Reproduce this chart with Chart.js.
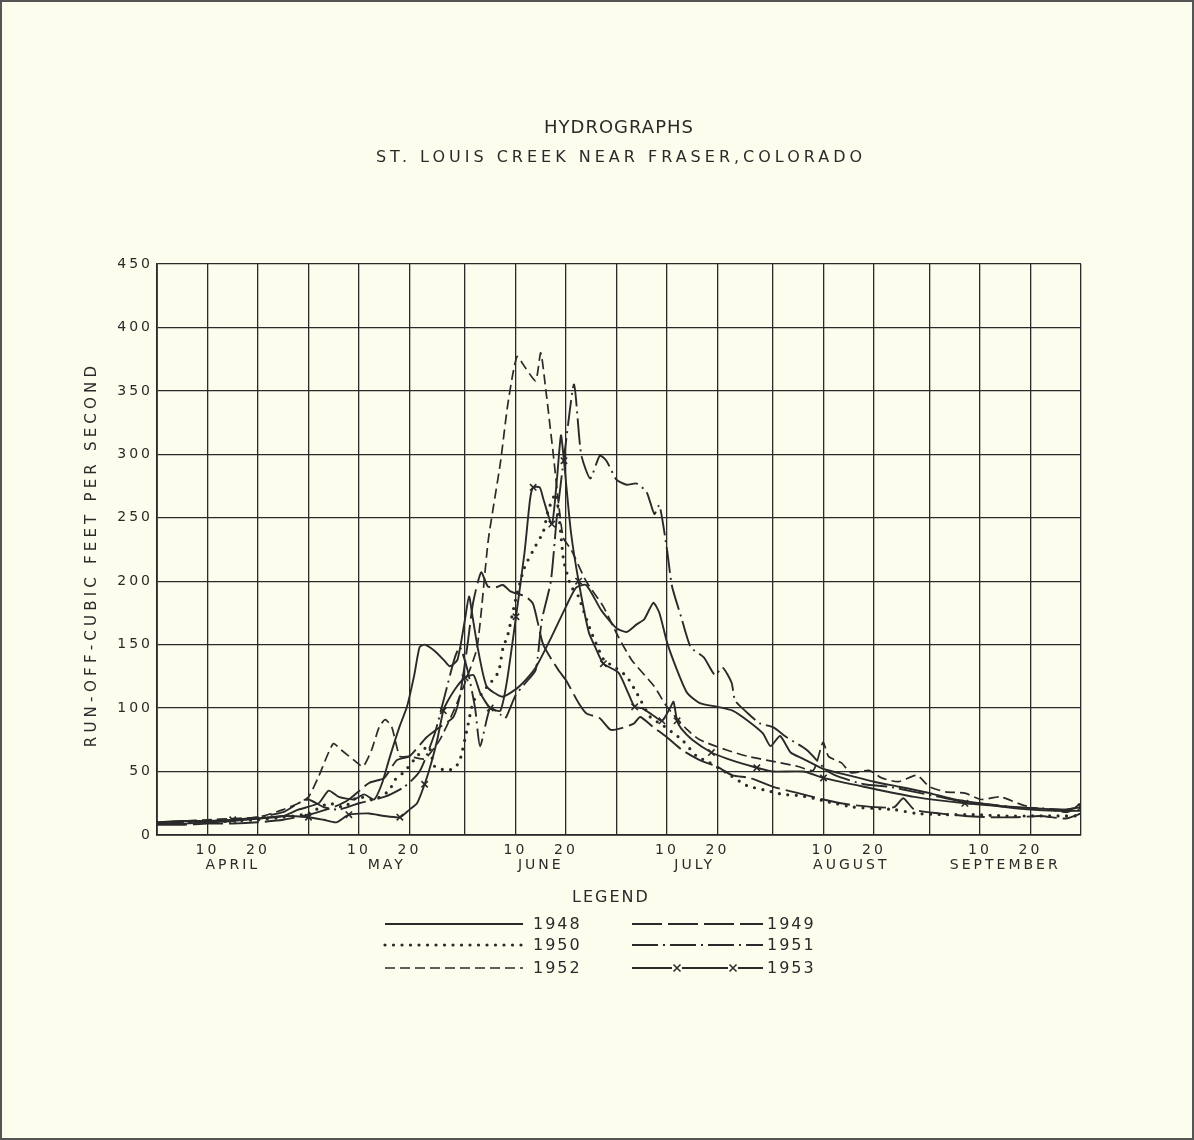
<!DOCTYPE html>
<html>
<head>
<meta charset="utf-8">
<title>Hydrographs - St. Louis Creek near Fraser, Colorado</title>
<script src="https://cdn.jsdelivr.net/npm/chart.js@4.4.1/dist/chart.umd.min.js"></script>
<style>
  html, body { margin: 0; padding: 0; background: #fdfdee; overflow: hidden; }
  #wrap { width: 1194px; height: 1140px; }
</style>
</head>
<body>
<div id="wrap"><canvas id="hydro" width="1194" height="1140"></canvas></div>
<script>
// x = days counted from March 31 (April 10 = 10, May 1 boundary = 30 ...)
const monthNames = ['APRIL', 'MAY', 'JUNE', 'JULY', 'AUGUST', 'SEPTEMBER'];
const monthStarts = [0, 30, 61, 91, 122, 153, 183];
const yTicks = [0, 50, 100, 150, 200, 250, 300, 350, 400, 450];
const years = ['1948', '1949', '1950', '1951', '1952', '1953'];

// [day, cubic feet per second]
const flow1948 = [[0,9],[5,9],[10,10],[15,11],[20,13],[25,15],[28,20],[32,25],[34,35],[36,30],[39,28],[41,32],[43,28],[44.5,40],[46,60],[48,85],[49.5,101],[51,127],[52,148],[53,150],[55,145],[57,137],[58,133],[59.5,138],[61,170],[61.8,188],[62.5,172],[63.5,148],[65.3,117],[68.3,109],[70,112],[72,118],[75,132],[78,155],[81,180],[83,195],[85,197],[88,177],[91,163],[93,160],[95,166],[96.5,170],[98.3,183],[99.5,175],[101,152],[103,130],[105,112],[107.5,104],[111,101],[114,98],[117,90],[120,80],[121.5,70],[123.4,78],[125.5,65],[128,60],[132,52],[137,47],[142,42],[147,38],[153,33],[158,28],[163,25],[168,22],[173,20],[178,19],[183,19]];
const flow1949 = [[0,8],[5,8],[10,9],[15,9],[20,10],[25,12],[30,16],[35,22],[38,28],[42,41],[45,45],[47.5,59],[50,62],[53.4,77],[56,85],[58.7,93],[60,110],[61.5,150],[62.6,183],[64.2,207],[65.5,196],[67,195],[68.5,197],[70,192],[71.5,190],[73,188],[74.5,182],[76.5,150],[79.5,130],[81,122],[83.5,104],[85,96],[87.7,92],[89.8,83],[91.8,84],[94.5,88],[95.7,93],[98.3,85],[101,77],[104,67],[107.5,59],[110.8,54],[114,47],[117.4,45],[122,38],[127,33],[132,28],[137,24],[142,22],[146,22],[147.8,29],[150,20],[155,17],[160,15],[165,14],[170,14],[175,15],[180,13],[183,17]];
const flow1950 = [[0,9],[5,10],[10,10],[15,11],[20,12],[25,14],[30,17],[34,25],[37,22],[39.8,30],[43,28],[46,35],[47,43],[49,50],[51.5,62],[53.8,70],[55,54],[57.5,51],[59,53],[60,59],[61.5,85],[62.7,106],[64,110],[66,120],[67,124],[67.8,131],[68.5,147],[69.5,158],[71,185],[72.8,211],[75,228],[76.5,239],[77.5,256],[79,269],[80.5,217],[81,209],[82,196],[83.5,188],[84.1,181],[86,160],[88.5,138],[90.4,133],[93,125],[95,112],[97.7,93],[100,87],[102,81],[104,75],[106.9,62],[109,58],[112.8,49],[116.8,39],[120.8,35],[124,32],[127.4,31],[130,29],[133,26],[137.9,22],[142,21],[146,20],[150.5,17],[156.4,16],[162,16],[168,15],[173,15],[178,15],[183,15]];
const flow1951 = [[0,9],[5,10],[10,11],[15,12],[20,14],[25,18],[28,25],[30,28],[33,22],[36,20],[40,25],[45,30],[49,38],[52,50],[55,80],[57,110],[59,140],[60,148],[61.5,130],[63,100],[64,70],[66,100],[68,95],[69,92],[71,110],[73,120],[75,130],[76.2,169],[78,200],[79.2,251],[81,310],[82.6,355],[84,300],[85.8,281],[87.7,299],[89,295],[91,280],[93,276],[95,277],[97,270],[98.5,253],[99.5,260],[101,225],[102,196],[103.8,172],[105.7,148],[108.3,140],[110.5,126],[112,132],[113.8,120],[114.5,106],[117,96],[119.4,88],[122,85],[124.7,77],[128.7,67],[132.6,51],[135,46],[140,40],[145,38],[150,34],[155,30],[160,26],[165,24],[170,22],[175,21],[180,20],[183,22]];
const flow1952 = [[0,10],[5,11],[10,12],[15,13],[20,14],[25,20],[28,25],[30,30],[32,46],[34.9,72],[36.5,67],[39,59],[40.8,54],[42.5,67],[44,85],[45.2,91],[46.5,85],[48.1,62],[50,62],[53,60],[56,75],[59,100],[61,120],[63.4,148],[65.6,232],[68,293],[69.5,340],[71.3,377],[73,368],[75,358],[76,380],[77,351],[78.4,303],[80.4,235],[82,225],[85,200],[88.4,180],[91,159],[94,138],[98.5,117],[101,101],[105,83],[107.5,75],[112.8,67],[117,62],[122,58],[127,54],[130,51],[131.9,73],[133,62],[135.5,57],[137.5,49],[141,51],[143.5,45],[146.8,42],[150.5,47],[153,38],[156.2,34],[160,33],[163.2,28],[167,30],[170.5,25],[173.8,21],[177,20],[180.3,18],[183,25]];
const flow1953 = [[0,10],[5,11],[10,11],[15,12],[20,13],[25,15],[30,14],[33,12],[35.5,10],[38,16],[42,17],[45,15],[48.1,14],[50,20],[51.5,25],[53,40],[54.4,58],[55.5,75],[56.7,98],[57.5,105],[59.4,117],[61,124],[62.7,126],[64,112],[66,100],[68,98],[69.3,121],[71.1,172],[72.8,223],[73.9,265],[74.5,274],[75.8,274],[76.5,265],[78.2,245],[79.2,280],[80,315],[80.6,295],[81,278],[82,238],[83.5,200],[85.5,160],[86.8,148],[88.4,135],[91.4,128],[93.3,112],[94.6,101],[96,100],[98,95],[100,90],[101.6,100],[102.3,105],[103,90],[103.8,84],[106,75],[109.8,65],[113,60],[117,55],[118.8,53],[122,50],[128,50],[132,45],[140,38],[150,30],[160,25],[170,22],[180,20],[183,22]];

const ink = '#2a2a2a';
const paper = '#fdfdee';
const font = '"DejaVu Sans", "Open Sans", sans-serif';

// grid every ten days, restarting at each month boundary
const gridDays = [];
for (let m = 0; m < 6; m++) {
    gridDays.push(monthStarts[m], monthStarts[m] + 10, monthStarts[m] + 20);
}
gridDays.push(183);
const monthMids = monthNames.map((n, i) => (monthStarts[i] + monthStarts[i + 1]) / 2);

function toPoints(pairs) {
    return pairs.map(p => ({ x: p[0], y: p[1] }));
}

const styles = [
    { dash: [], cap: 'butt', width: 1.9 },
    { dash: [30, 6], cap: 'butt', width: 1.9 },
    { dash: [0, 8.5], cap: 'round', width: 3.2 },
    { dash: [26, 5, 2, 5], cap: 'butt', width: 1.9 },
    { dash: [10, 5], cap: 'butt', width: 1.7 },
    { dash: [], cap: 'butt', width: 1.9 }
];
const series = [flow1948, flow1949, flow1950, flow1951, flow1952, flow1953];

const datasets = series.map((s, i) => ({
    label: years[i],
    data: toPoints(s),
    borderColor: ink,
    backgroundColor: ink,
    borderWidth: styles[i].width,
    borderDash: styles[i].dash,
    borderCapStyle: styles[i].cap,
    tension: 0.2,
    fill: false,
    pointStyle: 'crossRot',
    pointBorderWidth: 1.6,
    pointBorderColor: ink,
    pointRadius: i === 5 ? (ctx => (ctx.dataIndex % 3 === 0 && ctx.dataIndex > 0 ? 4.5 : 0)) : 0,
    pointHoverRadius: 0
}));

const paperPlugin = {
    id: 'paper',
    beforeDraw(chart) {
        const ctx = chart.ctx;
        const area = chart.chartArea;
        const cx = (area.left + area.right) / 2;
        ctx.save();
        ctx.fillStyle = paper;
        ctx.fillRect(0, 0, chart.width, chart.height);
        ctx.strokeStyle = '#555';
        ctx.lineWidth = 2;
        ctx.strokeRect(1, 1, chart.width - 2, chart.height - 2);
        ctx.fillStyle = ink;
        ctx.textAlign = 'center';
        ctx.textBaseline = 'middle';
        ctx.letterSpacing = '1px';
        ctx.font = '18px ' + font;
        ctx.fillText('HYDROGRAPHS', cx, 128);
        ctx.letterSpacing = '4px';
        ctx.font = '16px ' + font;
        ctx.fillText('ST. LOUIS CREEK NEAR FRASER,COLORADO', cx + 2, 158);
        // axis title, rotated along the value axis
        ctx.translate(92, (area.top + area.bottom) / 2 + 5);
        ctx.rotate(-Math.PI / 2);
        ctx.letterSpacing = '4.2px';
        ctx.font = '15px ' + font;
        ctx.fillText('RUN-OFF-CUBIC FEET PER SECOND', 0, 0);
        ctx.restore();
        ctx.letterSpacing = '3px';
    },
    afterDraw(chart) {
        const ctx = chart.ctx;
        ctx.save();
        ctx.fillStyle = ink;
        ctx.strokeStyle = ink;
        ctx.textBaseline = 'middle';
        ctx.textAlign = 'center';
        ctx.letterSpacing = '2px';
        ctx.font = '16px ' + font;
        ctx.fillText('LEGEND', 611, 898);
        ctx.textAlign = 'left';
        const cols = [{ x0: 385, x1: 523, tx: 533 }, { x0: 632, x1: 763, tx: 767 }];
        const rowsY = [924, 945, 968];
        chart.data.datasets.forEach((ds, i) => {
            const c = cols[i % 2];
            const y = rowsY[Math.floor(i / 2)];
            ctx.save();
            ctx.setLineDash(ds.borderDash);
            ctx.lineCap = ds.borderCapStyle;
            ctx.lineWidth = ds.borderWidth;
            ctx.beginPath();
            ctx.moveTo(c.x0, y);
            ctx.lineTo(c.x1, y);
            ctx.stroke();
            ctx.restore();
            if (i === 5) {
                [677, 733].forEach(mx => {
                    ctx.fillStyle = paper;
                    ctx.fillRect(mx - 5, y - 4, 10, 8);
                    ctx.lineWidth = 1.5;
                    ctx.beginPath();
                    ctx.moveTo(mx - 3.5, y - 3.5); ctx.lineTo(mx + 3.5, y + 3.5);
                    ctx.moveTo(mx + 3.5, y - 3.5); ctx.lineTo(mx - 3.5, y + 3.5);
                    ctx.stroke();
                });
                ctx.fillStyle = ink;
            }
            ctx.fillText(ds.label, c.tx, y + 1);
        });
        ctx.restore();
    }
};

new Chart(document.getElementById('hydro'), {
    type: 'line',
    data: { datasets: datasets },
    plugins: [paperPlugin],
    options: {
        responsive: false,
        animation: false,
        devicePixelRatio: 1,
        layout: { padding: { left: 78, right: 113, top: 264, bottom: 263 } },
        plugins: {
            legend: { display: false },
            title: { display: false },
            tooltip: { enabled: false }
        },
        scales: {
            x: {
                type: 'linear',
                min: 0,
                max: 183,
                position: 'bottom',
                afterBuildTicks: scale => { scale.ticks = gridDays.map(v => ({ value: v })); },
                afterFit: scale => { scale.height = 22; },
                grid: { color: ink, lineWidth: 1.3, drawTicks: false },
                border: { color: ink, width: 1.8 },
                ticks: {
                    color: ink,
                    padding: 7,
                    autoSkip: false,
                    maxRotation: 0,
                    font: { family: font, size: 14 },
                    callback: v => {
                        const m = monthStarts.filter(s => s <= v).pop();
                        const d = v - m;
                        return d === 10 || d === 20 ? String(d) : '';
                    }
                }
            },
            months: {
                type: 'linear',
                axis: 'x',
                min: 0,
                max: 183,
                position: 'bottom',
                afterBuildTicks: scale => { scale.ticks = monthMids.map(v => ({ value: v })); },
                afterFit: scale => { scale.height = 20; },
                grid: { display: false, drawTicks: false },
                border: { display: false },
                ticks: {
                    color: ink,
                    padding: 0,
                    autoSkip: false,
                    maxRotation: 0,
                    font: { family: font, size: 14 },
                    callback: v => monthNames[monthMids.indexOf(v)]
                }
            },
            y: {
                min: 0,
                max: 450,
                afterBuildTicks: scale => { scale.ticks = yTicks.map(v => ({ value: v })); },
                afterFit: scale => { scale.width = 79; },
                grid: { color: ink, lineWidth: 1.3, drawTicks: false },
                border: { color: ink, width: 1.8 },
                ticks: {
                    color: ink,
                    padding: 4,
                    font: { family: font, size: 14 }
                }
            }
        }
    }
});
</script>
</body>
</html>
